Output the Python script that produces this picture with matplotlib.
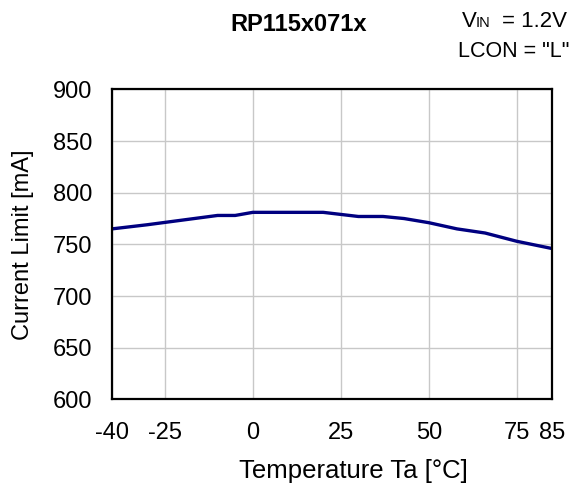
import matplotlib
matplotlib.use("Agg")
import matplotlib.pyplot as plt

# temperature [degC] vs current limit [mA]
temps = [-40, -30, -10, -5, 0, 20, 30, 37, 43, 50, 58, 66, 75, 85]
current = [765, 769, 778, 778, 781, 781, 777, 777, 775, 771, 765, 761, 753, 746]

x_ticks = [-40, -25, 0, 25, 50, 75, 85]
y_ticks = [600, 650, 700, 750, 800, 850, 900]

plt.rcParams['font.family'] = ['Liberation Sans', 'DejaVu Sans']
plt.rcParams['axes.unicode_minus'] = False

fig = plt.figure(figsize=(5.76, 4.86), dpi=100)
ax = fig.add_axes([0.1944, 0.1782, 0.7639, 0.6379])

ax.plot(temps, current, color='#000080', linewidth=2.4, solid_joinstyle='round')

ax.set_xlim(-40, 85)
ax.set_ylim(600, 900)
ax.set_xticks(x_ticks)
ax.set_yticks(y_ticks)
ax.grid(True, color='#c8c8c8', linewidth=1.0)
ax.set_axisbelow(True)
for s in ax.spines.values():
    s.set_linewidth(1.6)
    s.set_color('black')

ax.tick_params(axis='x', length=0, pad=16, labelsize=17)
ax.tick_params(axis='y', length=0, pad=14, labelsize=17)

ax.set_ylabel('Current Limit [mA]', fontsize=17, labelpad=14)
fig.text(353 / 576, 1 - 478 / 486, 'Temperature Ta [°C]', fontsize=18.5,
         ha='center', va='baseline')

fig.text(299 / 576, 1 - 31 / 486, 'RP115x071x', fontsize=17, fontweight='bold',
         ha='center', va='baseline')
fig.text(462 / 576, 1 - 27 / 486, 'V', fontsize=16, ha='left', va='baseline')
fig.text(476 / 576, 1 - 27 / 486, 'IN', fontsize=10.5, ha='left', va='baseline')
fig.text(567 / 576, 1 - 27 / 486, '= 1.2V', fontsize=16, ha='right', va='baseline')
fig.text(458 / 576, 1 - 57 / 486, 'LCON = "L"', fontsize=15.5, ha='left', va='baseline')

fig.savefig('out.png', dpi=100)
